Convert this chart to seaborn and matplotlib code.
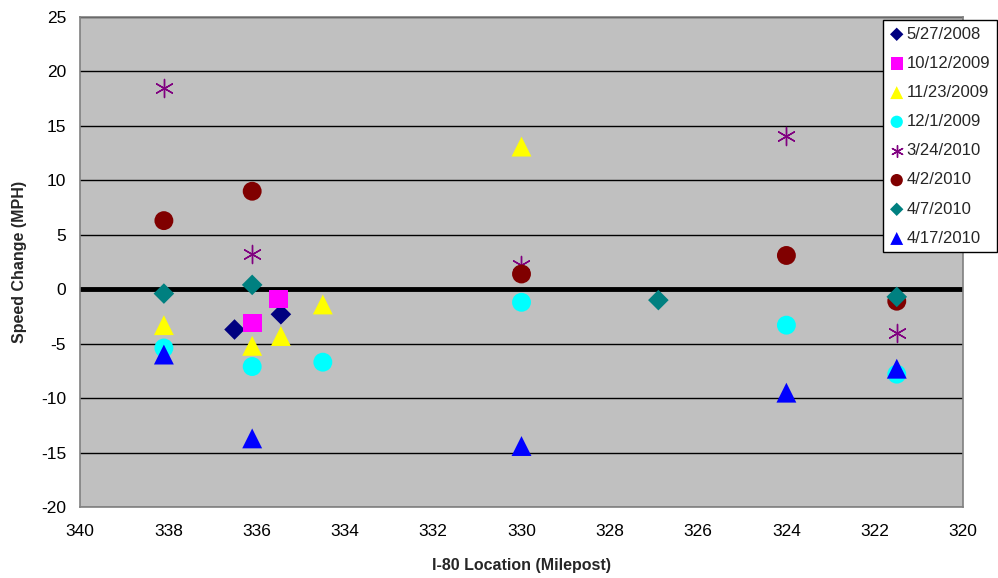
import matplotlib
matplotlib.use("Agg")
import matplotlib.pyplot as plt
import seaborn as sns
import pandas as pd

# ---- data ----
dates = ["5/27/2008", "10/12/2009", "11/23/2009", "12/1/2009",
         "3/24/2010", "4/2/2010", "4/7/2010", "4/17/2010"]

mp_0527 = [336.5, 335.45]
sc_0527 = [-3.7, -2.3]

mp_1012 = [336.1, 335.5]
sc_1012 = [-3.1, -0.9]

mp_1123 = [338.1, 336.1, 335.45, 334.5, 330.0]
sc_1123 = [-3.3, -5.2, -4.3, -1.4, 13.1]

mp_1201 = [338.1, 336.1, 334.5, 330.0, 324.0, 321.5]
sc_1201 = [-5.4, -7.1, -6.7, -1.2, -3.3, -7.8]

mp_0324 = [338.1, 336.1, 330.0, 324.0, 321.5]
sc_0324 = [18.5, 3.2, 2.2, 14.1, -4.0]

mp_0402 = [338.1, 336.1, 330.0, 324.0, 321.5]
sc_0402 = [6.3, 9.0, 1.4, 3.1, -1.1]

mp_0407 = [338.1, 336.1, 326.9, 321.5]
sc_0407 = [-0.4, 0.4, -1.0, -0.7]

mp_0417 = [338.1, 336.1, 330.0, 324.0, 321.5]
sc_0417 = [-6.0, -13.7, -14.4, -9.5, -7.3]

x_ticks = [340, 338, 336, 334, 332, 330, 328, 326, 324, 322, 320]
y_ticks = [-20, -15, -10, -5, 0, 5, 10, 15, 20, 25]

series = [
    (dates[0], mp_0527, sc_0527, "D", "#000080", 110),
    (dates[1], mp_1012, sc_1012, "s", "#FF00FF", 185),
    (dates[2], mp_1123, sc_1123, "^", "#FFFF00", 205),
    (dates[3], mp_1201, sc_1201, "o", "#00FFFF", 185),
    (dates[4], mp_0324, sc_0324, (6, 2, 0), "#800080", 170),
    (dates[5], mp_0402, sc_0402, "o", "#800000", 185),
    (dates[6], mp_0407, sc_0407, "D", "#008080", 110),
    (dates[7], mp_0417, sc_0417, "^", "#0000FF", 205),
]

sns.set_style("white")
plt.rcParams["font.family"] = ["Liberation Sans", "DejaVu Sans"]
plt.rcParams["axes.unicode_minus"] = False

fig = plt.figure(figsize=(9.98, 5.78), dpi=100)
ax = fig.add_axes([80 / 998, 71 / 578, 883 / 998, 490 / 578])
ax.set_facecolor("#C0C0C0")

for yv in y_ticks:
    ax.axhline(yv, color="#000000", lw=1.0, zorder=1)
ax.axhline(0, color="#000000", lw=3.5, zorder=2)

for label, xs, ys, mk, col, s in series:
    df = pd.DataFrame({"Milepost": xs, "Speed": ys})
    if isinstance(mk, tuple):
        sns.scatterplot(data=df, x="Milepost", y="Speed", marker=mk, s=s,
                        color=col, edgecolor=col, linewidth=1.0,
                        label=label, ax=ax, zorder=3)
    else:
        sns.scatterplot(data=df, x="Milepost", y="Speed", marker=mk, s=s,
                        color=col, edgecolor="none", linewidth=0,
                        label=label, ax=ax, zorder=3)

ax.set_xlim(340, 320)
ax.set_ylim(-20, 25)
ax.set_xticks(x_ticks)
ax.set_yticks(y_ticks)
ax.tick_params(axis="both", length=0, labelsize=12.5, colors="#000000")
ax.tick_params(axis="x", pad=12)
ax.tick_params(axis="y", pad=10)

for sp in ax.spines.values():
    sp.set_color("#808080")
    sp.set_linewidth(1.2)

ax.set_xlabel("I-80 Location (Milepost)", fontsize=11.5, fontweight="bold", labelpad=14)
ax.set_ylabel("Speed Change (MPH)", fontsize=11.5, fontweight="bold", labelpad=10)

leg = ax.legend(loc="upper right", bbox_to_anchor=(997 / 998, 1 - 20 / 578),
                bbox_transform=fig.transFigure, frameon=True, fancybox=False,
                edgecolor="#000000", facecolor="white", framealpha=1,
                fontsize=12, markerscale=0.65, handletextpad=0.15,
                handlelength=0.9, labelspacing=0.85, borderpad=0.4,
                borderaxespad=0)
leg.get_frame().set_linewidth(1.0)
leg.set_zorder(5)

fig.savefig("out.png", dpi=100)
